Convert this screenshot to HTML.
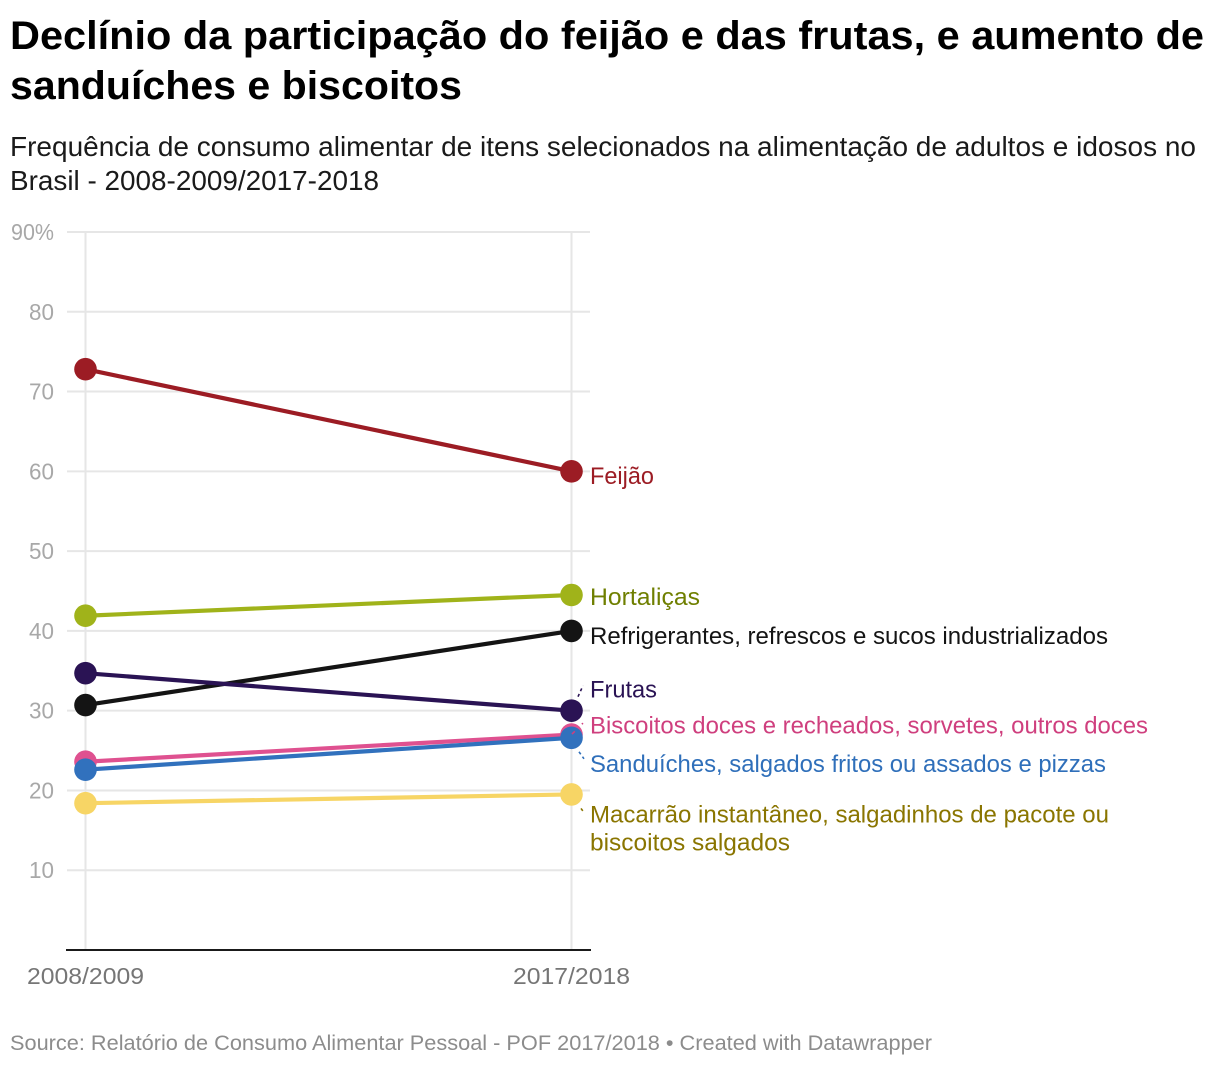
<!DOCTYPE html>
<html lang="pt">
<head>
<meta charset="utf-8">
<title>Declínio da participação do feijão e das frutas</title>
<style>
html,body{margin:0;padding:0;background:#fff;width:1220px;height:1066px;overflow:hidden}
svg{display:block;font-family:"Liberation Sans",sans-serif}
</style>
</head>
<body>
<svg id="chart" width="1220" height="1066" viewBox="0 0 1220 1066" xmlns="http://www.w3.org/2000/svg">
  <text x="10" y="49" font-size="40" font-weight="700" fill="#000" textLength="1194" lengthAdjust="spacingAndGlyphs">Declínio da participação do feijão e das frutas, e aumento de</text>
  <text x="10" y="99" font-size="40" font-weight="700" fill="#000" textLength="452" lengthAdjust="spacingAndGlyphs">sanduíches e biscoitos</text>
  <text x="10" y="156" font-size="27.5" fill="#1a1a1a" textLength="1186" lengthAdjust="spacingAndGlyphs">Frequência de consumo alimentar de itens selecionados na alimentação de adultos e idosos no</text>
  <text x="10" y="190" font-size="27.5" fill="#1a1a1a" textLength="369" lengthAdjust="spacingAndGlyphs">Brasil - 2008-2009/2017-2018</text>
  <g id="grid"></g>
  <g id="axes"></g>
  <g id="series"></g>
  <g id="labels"></g>
  <text x="10" y="1050" font-size="21.5" fill="#8c8c8c" textLength="922" lengthAdjust="spacingAndGlyphs">Source: Relatório de Consumo Alimentar Pessoal - POF 2017/2018 • Created with Datawrapper</text>
</svg>
<script>
const periods = ['2008/2009', '2017/2018'];
const yTicks = [10, 20, 30, 40, 50, 60, 70, 80, 90];
const seriesNames = ['Feijão', 'Hortaliças', 'Refrigerantes', 'Frutas', 'Biscoitos', 'Sanduíches', 'Macarrão'];
const feijao = [72.8, 60];
const hortalicas = [41.9, 44.5];
const refrigerantes = [30.7, 40];
const frutas = [34.7, 30];
const biscoitos = [23.6, 27];
const sanduiches = [22.6, 26.6];
const macarrao = [18.4, 19.5];
const seriesValues = [feijao, hortalicas, refrigerantes, frutas, biscoitos, sanduiches, macarrao];
const labelLines = [
  ['Feijão'],
  ['Hortaliças'],
  ['Refrigerantes, refrescos e sucos industrializados'],
  ['Frutas'],
  ['Biscoitos doces e recheados, sorvetes, outros doces'],
  ['Sanduíches, salgados fritos ou assados e pizzas'],
  ['Macarrão instantâneo, salgadinhos de pacote ou', 'biscoitos salgados']
];
const lineColors = ['#9c1c24', '#a0b31a', '#141414', '#2a1354', '#df5190', '#3171bd', '#f7d565'];
const textColors = ['#9c1c24', '#6f7f00', '#141414', '#2a1354', '#cf3f7e', '#2f6fba', '#8a7500'];
/* layout only: label offsets from end point, fitted text widths, leader geometry */
const labelNudge = [12.5, 10, 13, -13, -1, 34, 28];
const labelWidths = [[64], [110], [518], [67], [558], [516], [519, 200]];
const leaderLayout = [null, null, null,
  {x1: 578, d1: -14, x2: 583, d2: -25, dash: '3 3'},
  {x1: 572, d1: -0.5, x2: 584, d2: -12.5, dash: '4 10 1.5 20'},
  {x1: 579, d1: 14, x2: 584, d2: 21, dash: '3 3'},
  {x1: 581, d1: 14, x2: 584, d2: 18, dash: '3 3'}];

const NS = 'http://www.w3.org/2000/svg';
const xPos = i => 85.5 + i * 486;
const yPos = v => 950 - v * (718 / 90);
function make(parent, tag, attrs) {
  const el = document.createElementNS(NS, tag);
  for (const k in attrs) el.setAttribute(k, attrs[k]);
  parent.appendChild(el);
  return el;
}
const grid = document.getElementById('grid');
const axes = document.getElementById('axes');
const seriesG = document.getElementById('series');
const labelsG = document.getElementById('labels');

yTicks.forEach(t => {
  const gl = make(grid, 'line', {x1: 67, x2: 590, y1: yPos(t), y2: yPos(t), stroke: '#e6e6e6', 'stroke-width': 2});
  
  
  const tx = make(axes, 'text', {x: 54, y: yPos(t) + 8, 'text-anchor': 'end', 'font-size': 23, fill: '#a8a8a8', textLength: t === 90 ? 43 : 25, lengthAdjust: 'spacingAndGlyphs'});
  
  
  tx.textContent = t === 90 ? t + '%' : String(t);
});
periods.forEach((p, i) => {
  const gl = make(grid, 'line', {x1: xPos(i), x2: xPos(i), y1: yPos(90) - 1, y2: yPos(0), stroke: '#e6e6e6', 'stroke-width': 2});
  
  
  const tx = make(axes, 'text', {x: xPos(i), y: 984, 'text-anchor': 'middle', 'font-size': 23.5, fill: '#767676', textLength: 117, lengthAdjust: 'spacingAndGlyphs'});
  
  
  tx.textContent = p;
});
const base = make(axes, 'line', {x1: 66, x2: 591, y1: yPos(0), y2: yPos(0), stroke: '#1a1a1a', 'stroke-width': 2});



seriesValues.forEach((vals, s) => {
  const g = make(seriesG, 'g', {});
  
  
  const ln = make(g, 'line', {x1: xPos(0), y1: yPos(vals[0]), x2: xPos(1), y2: yPos(vals[1]), stroke: lineColors[s], 'stroke-width': 4.2});
  
  
  vals.forEach((v, i) => {
    const c = make(g, 'circle', {cx: xPos(i), cy: yPos(v), r: 11.3, fill: lineColors[s]});
    
    
  });
  const endY = yPos(vals[1]);
  const baseY = endY + labelNudge[s];
  const lead = leaderLayout[s];
  if (lead) {
    const ld = make(labelsG, 'line', {x1: lead.x1, y1: endY + lead.d1, x2: lead.x2, y2: endY + lead.d2, stroke: textColors[s], 'stroke-width': 1.6, 'stroke-dasharray': lead.dash});
    
    
  }
  labelLines[s].forEach((txt, k) => {
    const tx = make(labelsG, 'text', {x: 590, y: baseY + k * 28, 'font-size': 24, fill: textColors[s], textLength: labelWidths[s][k], lengthAdjust: 'spacingAndGlyphs'});
    
    
    tx.textContent = txt;
  });
});
</script>
</body>
</html>
